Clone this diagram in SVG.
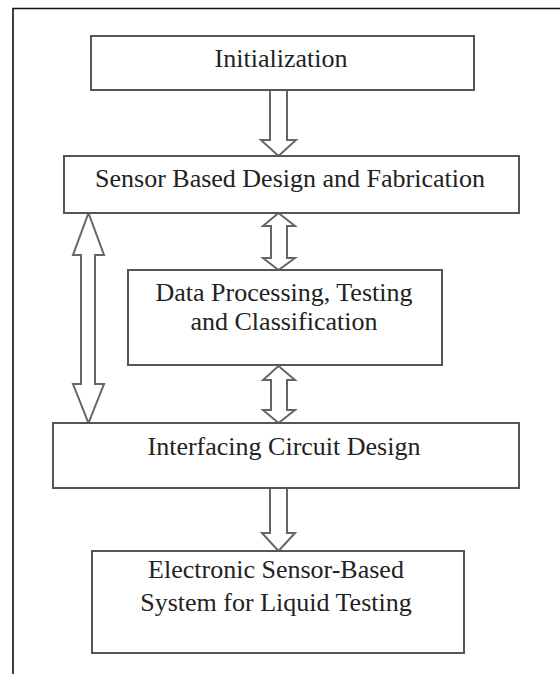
<svg xmlns="http://www.w3.org/2000/svg" width="560" height="674" viewBox="0 0 560 674">
<style>
.box{fill:#fff;stroke:#555;stroke-width:2}
.arr{fill:#fff;stroke:#666;stroke-width:2;stroke-linejoin:miter}
text{font-family:"Liberation Serif","Times New Roman",serif;font-size:26px;fill:#222;text-anchor:middle}
</style>
<rect width="560" height="674" fill="#fff"/>
<path d="M13 680 V8.5 H562" fill="none" stroke="#111" stroke-width="1.6"/>
<g id="connectors">
<polygon class="arr" points="270,90 287,90 287,140 296,140 278.5,156 261,140 270,140"/>
<polygon class="arr" points="278.5,213 295,226 287,226 287,258 295,258 278.5,270 263,258 271,258 271,226 263,226"/>
<polygon class="arr" points="278.5,366 295,380 287,380 287,410 295,410 278.5,423 263,410 271,410 271,380 263,380"/>
<polygon class="arr" points="270,488 287,488 287,533 295,533 278.5,551 262,533 270,533"/>
<polygon class="arr" points="88.5,213 104,255 95,255 95,384 104,384 88.5,423 73,384 81,384 81,255 73,255"/>
</g>
<g id="initialization">
<rect class="box" x="91" y="36" width="383" height="54"/>
<text x="281" y="67">Initialization</text>
</g>
<g id="sensor-design">
<rect class="box" x="64" y="156" width="455" height="57"/>
<text x="290" y="187">Sensor Based Design and Fabrication</text>
</g>
<g id="data-processing">
<rect class="box" x="128" y="270" width="314" height="95"/>
<text x="284" y="301">Data Processing, Testing</text>
<text x="284" y="330">and Classification</text>
</g>
<g id="interfacing">
<rect class="box" x="53" y="423" width="466" height="65"/>
<text x="284" y="455">Interfacing Circuit Design</text>
</g>
<g id="electronic-system">
<rect class="box" x="92" y="551" width="372" height="102"/>
<text x="276" y="578">Electronic Sensor-Based</text>
<text x="276" y="611">System for Liquid Testing</text>
</g>
</svg>
